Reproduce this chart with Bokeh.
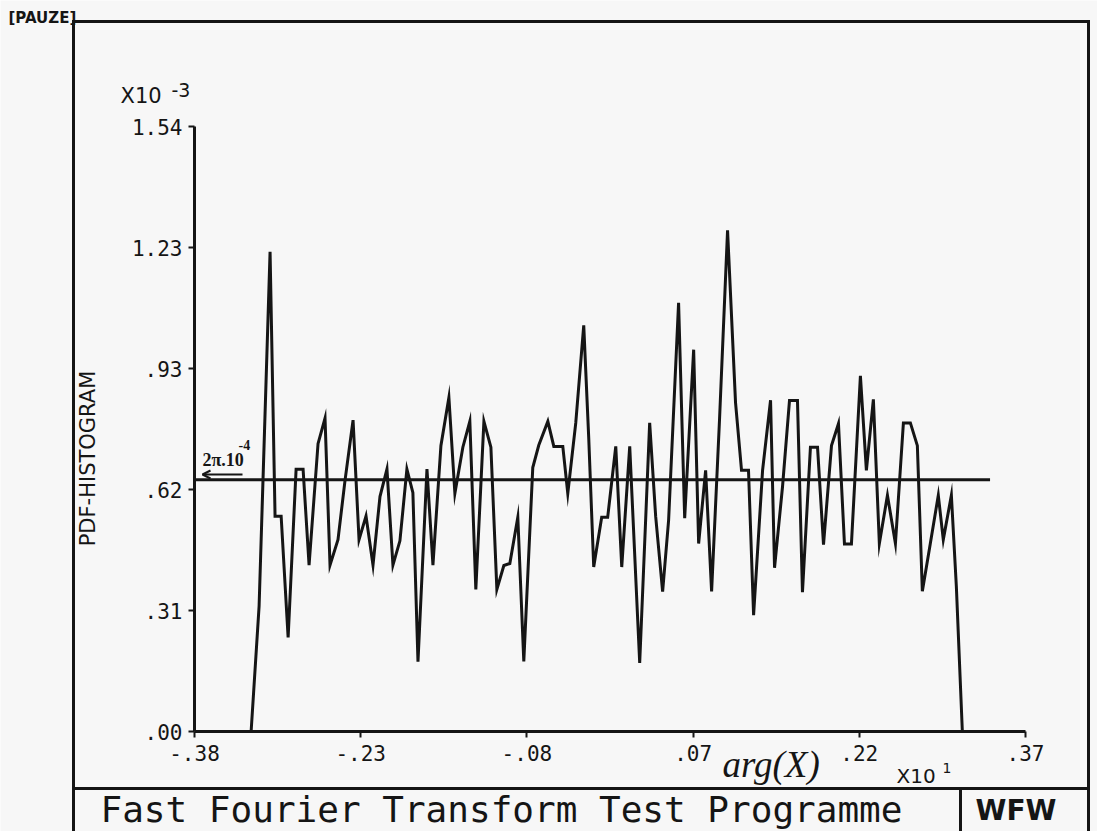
import math
from bokeh.plotting import figure
from bokeh.models import Range1d, FixedTicker, Label, Arrow, OpenHead, GridBox
from bokeh.embed import file_html
from bokeh.resources import INLINE

# ---- data (arg(X) in units of 10^1, PDF in units of 10^-3) ----
arg_x = [-0.3289, -0.3217, -0.3118, -0.3073, -0.3018, -0.2955, -0.2883, -0.2820, -0.2766, -0.2685,
         -0.2622, -0.2577, -0.2505, -0.2442, -0.2369, -0.2315, -0.2252, -0.2189, -0.2126, -0.2063,
         -0.2009, -0.1946, -0.1883, -0.1829, -0.1783, -0.1702, -0.1648, -0.1576, -0.1504, -0.1450,
         -0.1378, -0.1315, -0.1261, -0.1188, -0.1125, -0.1071, -0.1008, -0.0954, -0.0882, -0.0828,
         -0.0747, -0.0693, -0.0611, -0.0557, -0.0476, -0.0431, -0.0359, -0.0287, -0.0242, -0.0197,
         -0.0125, -0.0071, 0.0002, 0.0056, 0.0128, 0.0218, 0.0308, 0.0362, 0.0425, 0.0479,
         0.0569, 0.0624, 0.0705, 0.0750, 0.0813, 0.0867, 0.0939, 0.1011, 0.1083, 0.1137,
         0.1200, 0.1246, 0.1327, 0.1399, 0.1435, 0.1507, 0.1570, 0.1642, 0.1687, 0.1759,
         0.1823, 0.1877, 0.1949, 0.2012, 0.2066, 0.2129, 0.2210, 0.2264, 0.2327, 0.2381,
         0.2454, 0.2526, 0.2598, 0.2661, 0.2724, 0.2769, 0.2841, 0.2913, 0.2958, 0.3031,
         0.3076, 0.3130]
pdf = [0.0, 0.32, 1.225, 0.55, 0.55, 0.24, 0.67, 0.67, 0.425, 0.735,
       0.80, 0.425, 0.49, 0.64, 0.795, 0.49, 0.55, 0.425, 0.60, 0.67,
       0.425, 0.487, 0.67, 0.61, 0.178, 0.67, 0.425, 0.73, 0.853, 0.608,
       0.726, 0.792, 0.363, 0.792, 0.726, 0.363, 0.424, 0.429, 0.547, 0.179,
       0.674, 0.731, 0.792, 0.728, 0.728, 0.608, 0.788, 1.037, 0.75, 0.42,
       0.547, 0.547, 0.728, 0.42, 0.728, 0.175, 0.788, 0.55, 0.357, 0.54,
       1.095, 0.545, 0.975, 0.48, 0.667, 0.358, 0.80, 1.28, 0.84, 0.667,
       0.667, 0.297, 0.667, 0.846, 0.418, 0.625, 0.845, 0.845, 0.356, 0.726,
       0.726, 0.477, 0.73, 0.786, 0.479, 0.479, 0.908, 0.667, 0.848, 0.48,
       0.603, 0.48, 0.788, 0.788, 0.73, 0.358, 0.48, 0.603, 0.49, 0.603,
       0.37, 0.0]

x_ticks = [-0.38, -0.23, -0.08, 0.07, 0.22, 0.37]
x_tick_labels = ["-.38", "-.23", "-.08", ".07", ".22", ".37"]
y_ticks = [0.0, 0.309, 0.618, 0.927, 1.236, 1.545]
y_tick_labels = [".00", ".31", ".62", ".93", "1.23", "1.54"]

ref_level = 0.643      # 2*pi*10^-4 level line
ref_x_end = 0.338

INK = "#151515"
PAPER = "#f7f7f7"
W, H = 1097, 831

# ---------------- main data plot (transparent, on top) ----------------
p = figure(width=W, height=H, output_backend="svg", toolbar_location=None,
           x_range=Range1d(x_ticks[0], x_ticks[-1]), y_range=Range1d(y_ticks[0], y_ticks[-1]),
           min_border_left=194, min_border_right=72, min_border_top=126, min_border_bottom=100)
p.frame_align = False
p.background_fill_color = None
p.border_fill_color = None
p.outline_line_color = None
p.grid.visible = False

for ax in (p.xaxis, p.yaxis):
    ax.axis_line_color = INK
    ax.axis_line_width = 3
    ax.major_tick_line_color = INK
    ax.major_tick_line_width = 2
    ax.major_tick_out = 6
    ax.major_tick_in = 0
    ax.minor_tick_line_color = None
    ax.major_label_text_font = "DejaVu Sans Mono"
    ax.major_label_text_font_size = "21px"
    ax.major_label_text_color = INK

p.xaxis.ticker = FixedTicker(ticks=x_ticks)
p.xaxis.major_label_overrides = dict(zip(x_ticks, x_tick_labels))
p.xaxis.major_label_standoff = 7
p.yaxis.ticker = FixedTicker(ticks=y_ticks)
p.yaxis.major_label_overrides = dict(zip(y_ticks, y_tick_labels))
p.yaxis.major_label_standoff = 6

p.line(arg_x, pdf, line_color=INK, line_width=3, line_join="miter")
p.line([x_ticks[0], ref_x_end], [ref_level, ref_level], line_color=INK, line_width=3)

# ---------------- background sheet: frame, title band, free texts ----------------
bg = figure(width=W, height=H, output_backend="svg", toolbar_location=None,
            x_range=Range1d(0, W), y_range=Range1d(H, 0),
            x_axis_type=None, y_axis_type=None, min_border=0)
bg.frame_align = False
bg.background_fill_color = PAPER
bg.border_fill_color = PAPER
bg.outline_line_color = None

frame_x0, frame_x1, frame_y0, frame_y1 = 73, 1088, 21, 860
band_y, sign_x = 788, 960
bg.segment(x0=[frame_x0, frame_x0, frame_x1, frame_x0, sign_x],
           y0=[frame_y0, frame_y0, frame_y0, band_y, band_y],
           x1=[frame_x0, frame_x1, frame_x1, frame_x1, sign_x],
           y1=[frame_y1, frame_y0, frame_y1, band_y, frame_y1],
           line_color=INK, line_width=3, line_cap="square")


def txt(x, y, s, size, font="DejaVu Sans", style="normal", align="left",
        baseline="alphabetic", angle=0.0):
    bg.add_layout(Label(x=x, y=y, text=s, text_font=font, text_font_size=f"{size}px",
                        text_font_style=style, text_align=align, text_baseline=baseline,
                        angle=angle, text_color=INK))


txt(8, 17, "[PAUZE]", 15, style="bold")
txt(120, 95, "X10", 21)
txt(171, 89, "-3", 19)
txt(87, 458, "PDF-HISTOGRAM", 21, align="center", baseline="middle", angle=math.pi / 2)
txt(202, 459, "2π.10", 18, font="Liberation Serif", style="bold")
txt(238, 444, "-4", 14, font="Liberation Serif", style="bold")
bg.add_layout(Arrow(end=OpenHead(size=8, line_width=2, line_color=INK),
                    x_start=242, y_start=474, x_end=202, y_end=474,
                    line_color=INK, line_width=2))
txt(722, 764, "arg(X)", 37, font="Liberation Serif", style="italic")
txt(896, 775, "X10", 20)
txt(942, 767, "1", 14)
txt(100, 809, "Fast Fourier Transform Test Programme", 36, font="DejaVu Sans Mono")
txt(975, 810, "WFW", 28, style="bold")

layout = GridBox(children=[(bg, 0, 0), (p, 0, 0)])
open("out.html", "w").write(file_html(layout, INLINE))
